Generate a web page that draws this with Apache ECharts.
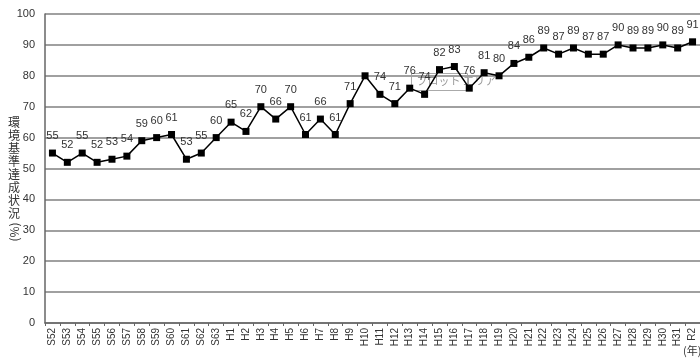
<!DOCTYPE html>
<html><head><meta charset="utf-8">
<script src="https://cdn.jsdelivr.net/npm/echarts@6/dist/echarts.min.js"></script>
<style>html,body{margin:0;padding:0;background:#fff}#c{width:700px;height:361px}</style>
</head><body><div id="c"></div>
<script>
var categories = ["S52","S53","S54","S55","S56","S57","S58","S59","S60","S61","S62","S63",
"H1","H2","H3","H4","H5","H6","H7","H8","H9","H10","H11","H12","H13","H14","H15","H16","H17","H18","H19","H20",
"H21","H22","H23","H24","H25","H26","H27","H28","H29","H30","H31","R2"];
var values = [55,52,55,52,53,54,59,60,61,53,55,60,
65,62,70,66,70,61,66,61,71,80,74,71,76,74,82,83,76,81,80,84,
86,89,87,89,87,87,90,89,89,90,89,91];
var hiddenLabels = ["H10"];
var yTicks = [0,10,20,30,40,50,60,70,80,90,100];
var yTitleChars = ["環","境","基","準","達","成","状","況"];
var yTitleUnit = "(%)";

var chart = echarts.init(document.getElementById('c'));
var font = '"Liberation Sans", "Noto Sans CJK JP", sans-serif';
var jfont = '"Noto Sans CJK JP", sans-serif';
var graphics = yTitleChars.map(function(ch,i){
  return {type:'text',x:14,y:116+i*13,style:{text:ch,fontSize:12,fill:'#333',fontFamily:jfont,align:'center',verticalAlign:'top'}};
});
graphics.push({type:'text',x:14,y:232,rotation:Math.PI/2,style:{text:yTitleUnit,fontSize:12,fill:'#333',fontFamily:jfont,align:'center',verticalAlign:'middle'}});
graphics.push({type:'text',left:683,top:345,style:{text:'(年)',fontSize:11,fill:'#333',fontFamily:jfont}});
graphics.push({type:'group',left:411,top:73,children:[
  {type:'rect',shape:{x:0,y:0,width:56,height:17},style:{fill:'rgba(255,255,255,0.75)',stroke:'#aaa',lineWidth:1}},
  {type:'text',x:5,y:2,style:{text:'プロット エリア',fontSize:11,fill:'#999',fontFamily:jfont}}
]});
chart.setOption({
  animation:false,
  grid:{left:45,right:0,top:14,bottom:38},
  xAxis:{type:'category',data:categories,boundaryGap:true,
    axisLine:{lineStyle:{color:'#666',width:1.5}},
    axisTick:{show:true,length:3,lineStyle:{color:'#666'}},
    axisLabel:{rotate:90,fontSize:10,color:'#333',fontFamily:font,margin:5,interval:0}},
  yAxis:{type:'value',min:yTicks[0],max:yTicks[yTicks.length-1],interval:10,
    axisLine:{show:true,lineStyle:{color:'#666',width:1.5}},
    axisTick:{show:false},
    splitLine:{lineStyle:{color:'#a0a0a0',width:2}},
    axisLabel:{fontSize:11,color:'#333',fontFamily:font,margin:10}},
  graphic:graphics,
  series:[{type:'line',data:values.map(function(v,i){
      return hiddenLabels.indexOf(categories[i])>=0 ? {value:v,label:{show:false}} : v;}),
    symbol:'rect',symbolSize:7,
    lineStyle:{color:'#000',width:1.5},itemStyle:{color:'#000'},
    label:{show:true,position:'top',distance:8,fontSize:11,color:'#333',fontFamily:font}}]
});
</script></body></html>
